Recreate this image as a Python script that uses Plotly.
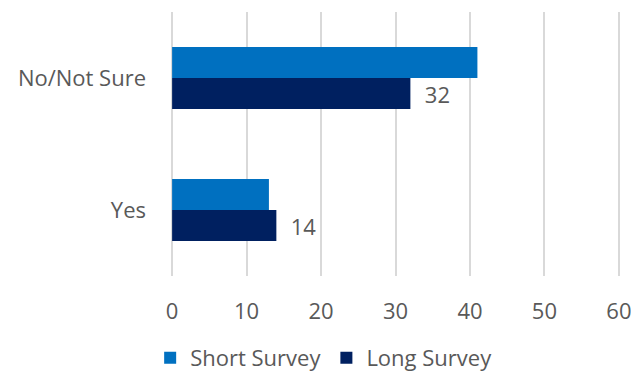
import plotly.graph_objs as go

categories = ['No/Not Sure', 'Yes']
short_survey = [41, 13]
long_survey = [32, 14]

font_name = 'Open Sans'
grey = '#595959'

data = [
    go.Bar(
        y=categories,
        x=short_survey,
        name='Short Survey',
        orientation='h',
        marker=dict(color='#0070C0', line=dict(width=0)),
    ),
    go.Bar(
        y=categories,
        x=long_survey,
        name='Long Survey',
        orientation='h',
        marker=dict(color='#002060', line=dict(width=0)),
        text=['  ' + str(v) for v in long_survey],
        textposition='outside',
        textfont=dict(size=22, color=grey, family=font_name),
        cliponaxis=False,
    ),
]

# page body has an 8px margin, so the figure is kept a bit smaller than the window
layout = go.Layout(
    width=623,
    height=375,
    margin=dict(l=163, r=11, t=4, b=105),
    paper_bgcolor='white',
    plot_bgcolor='white',
    barmode='group',
    bargap=0.53,
    bargroupgap=0,
    font=dict(family=font_name, size=22, color=grey),
    xaxis=dict(
        range=[-0.15, 60.15],  # tiny pad so the 0 and 60 gridlines are drawn
        tickvals=[0, 10, 20, 30, 40, 50, 60],
        showgrid=True,
        gridcolor='#d9d9d9',
        gridwidth=2,
        zeroline=False,
        showline=False,
        ticks='',
        automargin=False,
        ticklabeloverflow='allow',
        ticklabelstandoff=20,
        tickfont=dict(size=22, color=grey),
    ),
    yaxis=dict(
        categoryorder='array',
        categoryarray=categories,
        autorange='reversed',
        showgrid=False,
        zeroline=False,
        showline=False,
        ticks='',
        automargin=False,
        ticklabelstandoff=24,
        tickfont=dict(size=22, color=grey),
    ),
    legend=dict(
        orientation='h',
        x=0.34,
        xanchor='center',
        y=-0.31,
        yanchor='middle',
        font=dict(size=22, color=grey),
        itemsizing='constant',
    ),
)

fig = go.Figure(data=data, layout=layout)
fig.write_html('out.html')
